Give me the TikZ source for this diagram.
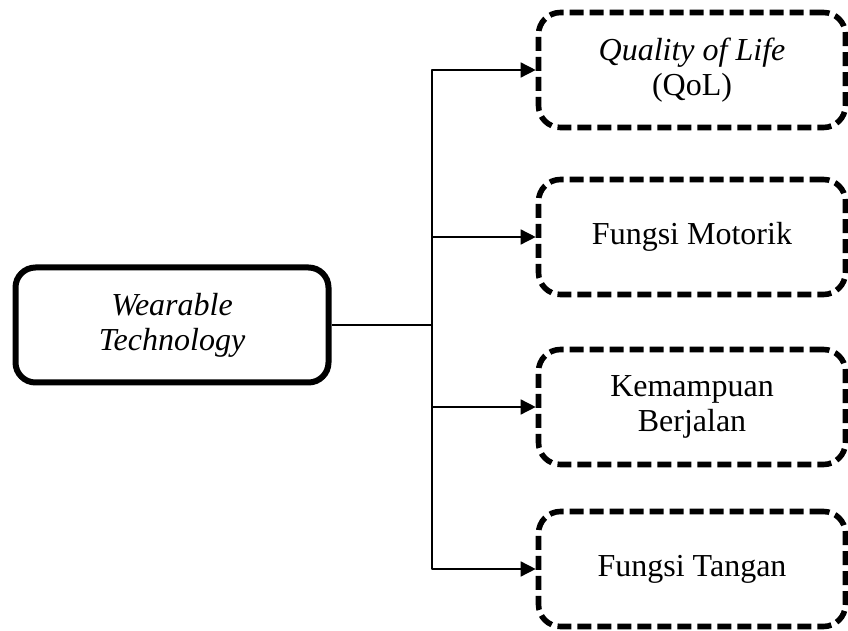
\documentclass[tikz,border=0pt]{standalone}
\usepackage{fontspec}
\setmainfont{Liberation Serif}
\usetikzlibrary{arrows.meta}
\begin{document}
\begin{tikzpicture}[x=0.5pt,y=-0.5pt,>={Triangle[length=7.5pt,width=7.5pt]},
	font=\fontsize{16}{17.5}\selectfont, line join=round,
	mainbox/.style={draw,line width=3pt,rounded corners=10pt,align=center,
		minimum width=156.5pt,minimum height=57.5pt},
	subbox/.style={draw,line width=2.8pt,dash pattern=on 7pt off 3pt,
		rounded corners=11pt,align=center,minimum width=153.5pt,minimum height=57.5pt},
	link/.style={line width=0.75pt}]
	\def\splitx{432} % x of the vertical line
	\useasboundingbox (0,0) rectangle (848,631);
	
	\node[mainbox] (wear) at (172,325) {\textit{Wearable}\\\textit{Technology}};
	
	\node[subbox] (qol)    at (692,70)  {\textit{Quality of Life}\\(QoL)};
	\node[subbox] (motor)  at (692,237) {Fungsi Motorik};
	\node[subbox] (jalan)  at (692,407) {Kemampuan\\Berjalan};
	\node[subbox] (tangan) at (692,569) {Fungsi Tangan};
	
	\coordinate (split) at (\splitx,325);
	\draw[link] (wear) -- (split);
	\foreach \t in {qol,motor,jalan,tangan}
		\draw[link,->] (split) |- (\t.west);
\end{tikzpicture}
\end{document}
